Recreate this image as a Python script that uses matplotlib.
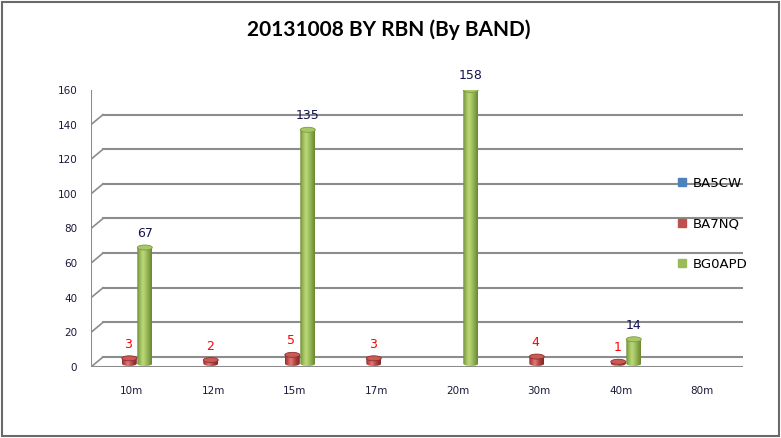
import numpy as np
import matplotlib.pyplot as plt
from matplotlib.patches import Ellipse, Rectangle, Polygon
from matplotlib.lines import Line2D
from matplotlib.colors import LinearSegmentedColormap

bands = ["10m", "12m", "15m", "17m", "20m", "30m", "40m", "80m"]
series = ["BA5CW", "BA7NQ", "BG0APD"]
ba5cw = [np.nan] * 8
ba7nq = [3, 2, 5, 3, np.nan, 4, 1, np.nan]
bg0apd = [67, np.nan, 135, np.nan, 158, np.nan, 14, np.nan]
y_ticks = [0, 20, 40, 60, 80, 100, 120, 140, 160]

W, H = 781, 438
fig = plt.figure(figsize=(W / 100, H / 100), dpi=100)
fig.patch.set_facecolor("white")

# front plane of the fake 3d box, in pixels
x0, x1, yb, yt = 91, 743, 367, 90
ax = fig.add_axes([x0 / W, 1 - yb / H, (x1 - x0) / W, (yb - yt) / H])
ax.set_facecolor("none")
xl, xr = -0.5, len(bands) - 0.5

ppx = (x1 - x0) / len(bands)
ppy = (yb - yt) / 160
dx, dy = 12 / ppx, 10 / ppy      # depth of the box
zx, zy = 4 / ppx, 3.5 / ppy      # where the cylinders stand

grid = "#8c8c8c"
for v in y_ticks:
    ax.plot([xl + dx, xr + dx], [v + dy, v + dy], color=grid, lw=1.5, zorder=1)
    ax.plot([xl, xl + dx], [v, v + dy], color=grid, lw=1.2, zorder=1)
ax.plot([xl, xl], [0, 160], color=grid, lw=1.5, zorder=1)
ax.plot([xl, xr], [0, 0], color=grid, lw=1.5, zorder=1)
ax.plot([xr, xr + dx], [0, dy], color=grid, lw=1.2, zorder=1)

eh = 5 / ppy
w = 0.184


def cylinder(x, v, cols, top, edge):
    if np.isnan(v):
        return
    y0 = zy
    t = np.linspace(np.pi, 2 * np.pi, 30)
    pts = [(x - w / 2, y0 + v)] + list(zip(x + w / 2 * np.cos(t), y0 + eh / 2 * np.sin(t))) + [(x + w / 2, y0 + v)]
    clip = Polygon(pts, closed=True, transform=ax.transData, fc="none", ec="none")
    ax.add_patch(clip)
    cmap = LinearSegmentedColormap.from_list("cyl", cols)
    im = ax.imshow(np.linspace(0, 1, 64).reshape(1, -1), cmap=cmap, aspect="auto",
                   extent=(x - w / 2, x + w / 2, y0 - eh / 2, y0 + v),
                   interpolation="bilinear", zorder=3)
    im.set_clip_path(clip)
    ax.add_patch(Ellipse((x, y0 + v), w, eh, fc=top, ec=edge, lw=0.6, zorder=3.2))


red_cols = ["#8a302e", "#c9524f", "#dd7b77", "#c0504d", "#9a3634", "#7d2a28"]
green_cols = ["#6f8c36", "#9bbb59", "#bcd97a", "#a3c262", "#86a547", "#6a8632"]

for i in range(len(bands)):
    xr_ = i - 0.03
    xg_ = i + 0.16
    cylinder(xr_, ba7nq[i], red_cols, "#c95a57", "#93302d")
    cylinder(xg_, bg0apd[i], green_cols, "#a8c868", "#7d9a40")
    if not np.isnan(ba7nq[i]):
        ax.annotate(str(ba7nq[i]), (xr_, zy + ba7nq[i]), xytext=(-1, 14),
                    textcoords="offset pixels", ha="center", va="center",
                    color="#ff0000", fontsize=9)
    if not np.isnan(bg0apd[i]):
        ax.annotate(str(bg0apd[i]), (xg_, zy + bg0apd[i]), xytext=(0, 14),
                    textcoords="offset pixels", ha="center", va="center",
                    color="#141450", fontsize=9)

ax.set_xlim(xl, xr)
ax.set_ylim(0, 160)
ax.set_xticks(range(len(bands)))
ax.set_xticklabels(bands)
ax.set_yticks(y_ticks)
for s in ax.spines.values():
    s.set_visible(False)
ax.tick_params(axis="y", length=0, pad=10, labelsize=7.5, labelcolor="#1a1a3a")
ax.tick_params(axis="x", length=0, pad=13.5, labelsize=7.5, labelcolor="#1a1a3a")

fig.text(389 / W, 1 - 30 / H, "20131008 BY RBN (By BAND)", ha="center", va="center",
         fontsize=15, fontweight="bold", family="Lato")

handles = [Line2D([], [], marker="s", ls="", color=c, markersize=6)
           for c in ["#4f81bd", "#c0504d", "#9bbb59"]]
fig.legend(handles, series, loc="upper left", bbox_to_anchor=(670 / W, 1 - 170 / H),
           frameon=False, fontsize=9.5, labelspacing=2.1, handlelength=0.8,
           handletextpad=0.4, borderpad=0)

fig.add_artist(Rectangle((2 / W, 2 / H), 777 / W, 434 / H, transform=fig.transFigure,
                         fill=False, ec="#6a6a6a", lw=1.5))

fig.savefig("out.png", dpi=100)
